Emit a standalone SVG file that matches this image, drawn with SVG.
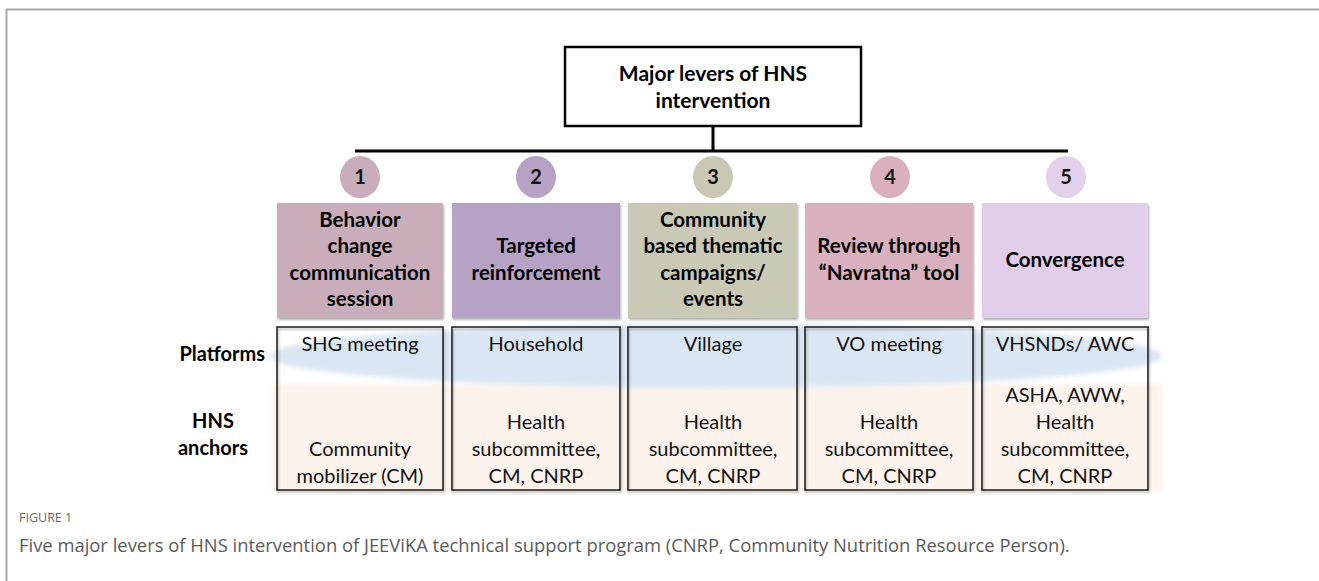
<svg xmlns="http://www.w3.org/2000/svg" width="1319" height="581" viewBox="0 0 1319 581">
  <style>
    .frame { stroke: #a8a8a8; stroke-width: 2; fill: none; }
    .conn { stroke: #000; stroke-width: 3; fill: none; }
    .title-box { fill: #fff; stroke: #000; stroke-width: 2.5; }
    .title { font-family: Lato, "Liberation Sans", sans-serif; font-weight: 700; font-size: 21px; fill: #000; text-anchor: middle; }
    .num { font-family: Lato, "Liberation Sans", sans-serif; font-weight: 700; font-size: 20px; fill: #111; text-anchor: middle; }
    .lever { font-family: Lato, "Liberation Sans", sans-serif; font-weight: 700; font-size: 20.5px; fill: #000; text-anchor: middle; }
    .cell-box { fill: none; stroke: #1a1a1a; stroke-width: 1.5; }
    .cell { font-family: Lato, "Liberation Sans", sans-serif; font-size: 20px; fill: #111; text-anchor: middle; }
    .row-label { font-family: Lato, "Liberation Sans", sans-serif; font-weight: 700; font-size: 20px; fill: #000; }
    .fig-no { font-family: "Open Sans", "Liberation Sans", sans-serif; font-size: 12.5px; fill: #6a6a6a; }
    .caption { font-family: "Open Sans", "Liberation Sans", sans-serif; font-size: 18.4px; fill: #5a5a5a; }
  </style>
  <defs>
    <filter id="shadow" x="-5%" y="-5%" width="110%" height="115%">
      <feDropShadow dx="1" dy="2" stdDeviation="1" flood-color="#000" flood-opacity="0.3"/>
    </filter>
    <filter id="soft" x="-5%" y="-20%" width="110%" height="140%">
      <feGaussianBlur stdDeviation="2.5"/>
    </filter>
  </defs>

  <rect width="1319" height="581" fill="#fff"/>
  <!-- page frame -->
  <path class="frame" d="M6.5 581 V9.5 H1319"/>

  <!-- row backgrounds -->
  <g id="bands">
    <rect x="272" y="384" width="890" height="108" fill="#fdf3ed" filter="url(#soft)"/>
    <ellipse cx="716" cy="356" rx="446" ry="32" fill="#dae6f3" filter="url(#soft)"/>
  </g>

  <!-- connectors -->
  <g id="connectors">
    <line class="conn" x1="713" y1="126" x2="713" y2="151"/>
    <line class="conn" x1="355" y1="151" x2="1068" y2="151"/>
  </g>

  <g id="title">
    <rect class="title-box" x="565" y="47" width="296" height="79"/>
    <text class="title" x="713" y="81">Major levers of HNS</text>
    <text class="title" x="713" y="108">intervention</text>
  </g>

  <!-- lever 1 -->
  <g id="lever-1">
    <ellipse cx="360" cy="177" rx="20" ry="21" fill="#c9adba"/>
    <text class="num" x="360" y="184">1</text>
    <rect x="277" y="203" width="166" height="115" fill="#c9adbb" filter="url(#shadow)"/>
    <text class="lever" x="360" y="227">Behavior</text>
    <text class="lever" x="360" y="253">change</text>
    <text class="lever" x="360" y="280">communication</text>
    <text class="lever" x="360" y="306">session</text>
    <rect class="cell-box" x="277" y="327" width="166" height="163" filter="url(#shadow)"/>
    <text class="cell" x="360" y="351">SHG meeting</text>
    <text class="cell" x="360" y="456">Community</text>
    <text class="cell" x="360" y="483">mobilizer (CM)</text>
  </g>

  <!-- lever 2 -->
  <g id="lever-2">
    <ellipse cx="536" cy="177" rx="20" ry="21" fill="#b6a2c4"/>
    <text class="num" x="536" y="184">2</text>
    <rect x="452" y="203" width="168" height="115" fill="#b6a2c4" filter="url(#shadow)"/>
    <text class="lever" x="536" y="253">Targeted</text>
    <text class="lever" x="536" y="280">reinforcement</text>
    <rect class="cell-box" x="452" y="327" width="168" height="163" filter="url(#shadow)"/>
    <text class="cell" x="536" y="351">Household</text>
    <text class="cell" x="536" y="429">Health</text>
    <text class="cell" x="536" y="456">subcommittee,</text>
    <text class="cell" x="536" y="483">CM, CNRP</text>
  </g>

  <!-- lever 3 -->
  <g id="lever-3">
    <ellipse cx="713" cy="177" rx="20" ry="21" fill="#c8c8b4"/>
    <text class="num" x="713" y="184">3</text>
    <rect x="628" y="203" width="169" height="115" fill="#c9c9b5" filter="url(#shadow)"/>
    <text class="lever" x="713" y="227">Community</text>
    <text class="lever" x="713" y="253">based thematic</text>
    <text class="lever" x="713" y="280">campaigns/</text>
    <text class="lever" x="713" y="306">events</text>
    <rect class="cell-box" x="628" y="327" width="169" height="163" filter="url(#shadow)"/>
    <text class="cell" x="713" y="351">Village</text>
    <text class="cell" x="713" y="429">Health</text>
    <text class="cell" x="713" y="456">subcommittee,</text>
    <text class="cell" x="713" y="483">CM, CNRP</text>
  </g>

  <!-- lever 4 -->
  <g id="lever-4">
    <ellipse cx="890" cy="177" rx="20" ry="21" fill="#d9b0bc"/>
    <text class="num" x="890" y="184">4</text>
    <rect x="805" y="203" width="168" height="115" fill="#d9b0bd" filter="url(#shadow)"/>
    <text class="lever" x="889" y="253">Review through</text>
    <text class="lever" x="889" y="280">“Navratna” tool</text>
    <rect class="cell-box" x="805" y="327" width="168" height="163" filter="url(#shadow)"/>
    <text class="cell" x="889" y="351">VO meeting</text>
    <text class="cell" x="889" y="429">Health</text>
    <text class="cell" x="889" y="456">subcommittee,</text>
    <text class="cell" x="889" y="483">CM, CNRP</text>
  </g>

  <!-- lever 5 -->
  <g id="lever-5">
    <ellipse cx="1066" cy="177" rx="20" ry="21" fill="#e3d0ea"/>
    <text class="num" x="1066" y="184">5</text>
    <rect x="982" y="203" width="166" height="115" fill="#e2cdea" filter="url(#shadow)"/>
    <text class="lever" x="1065" y="267">Convergence</text>
    <rect class="cell-box" x="982" y="327" width="166" height="163" filter="url(#shadow)"/>
    <text class="cell" x="1065" y="351">VHSNDs/ AWC</text>
    <text class="cell" x="1065" y="402">ASHA, AWW,</text>
    <text class="cell" x="1065" y="429">Health</text>
    <text class="cell" x="1065" y="456">subcommittee,</text>
    <text class="cell" x="1065" y="483">CM, CNRP</text>
  </g>

  <!-- row labels -->
  <g id="row-labels">
    <text class="row-label" x="265" y="361" text-anchor="end">Platforms</text>
    <text class="row-label" x="213" y="428" text-anchor="middle">HNS</text>
    <text class="row-label" x="213" y="455" text-anchor="middle">anchors</text>
  </g>

  <!-- caption -->
  <text class="fig-no" x="19" y="522">FIGURE 1</text>
  <text class="caption" x="19" y="552">Five major levers of HNS intervention of JEEViKA technical support program (CNRP, Community Nutrition Resource Person).</text>
</svg>
